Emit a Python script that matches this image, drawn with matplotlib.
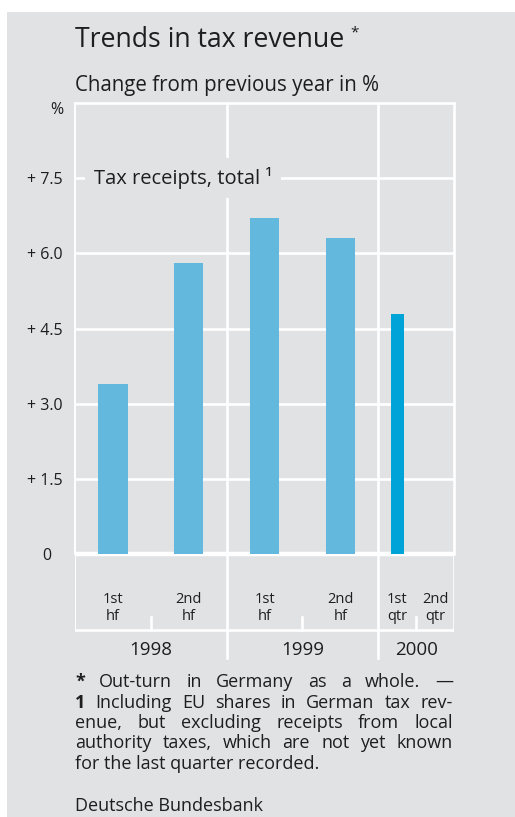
import numpy as np
import matplotlib
matplotlib.use("Agg")
import matplotlib.pyplot as plt
from matplotlib.patches import Rectangle
import matplotlib.transforms as mtransforms

# ---------------- data ----------------
years = ["1998", "1999", "2000"]
periods_per_year = [2, 2, 2]
period_labels = ["1st\nhf", "2nd\nhf", "1st\nhf", "2nd\nhf", "1st\nqtr", "2nd\nqtr"]
period_span = [1.0, 1.0, 1.0, 1.0, 0.5, 0.5]   # half-year = 1, quarter = 0.5
values = [3.4, 5.8, 6.7, 6.3, 4.8, np.nan]     # 2nd qtr 2000 not yet available
yticks = [0, 1.5, 3.0, 4.5, 6.0, 7.5]
ytick_labels = ["0", "+ 1.5", "+ 3.0", "+ 4.5", "+ 6.0", "+ 7.5"]

title = "Trends in tax revenue"
subtitle = "Change from previous year in %"
series_label = "Tax receipts, total \u00b9"
footnote_lines = [
    ["*", "Out-turn", "in", "Germany", "as", "a", "whole.", "\u2014"],
    ["1", "Including", "EU", "shares", "in", "German", "tax", "rev-"],
    ["enue,", "but", "excluding", "receipts", "from", "local"],
    ["authority", "taxes,", "which", "are", "not", "yet", "known"],
]
footnote_last = "for the last quarter recorded."
source = "Deutsche Bundesbank"

# ---------------- style ----------------
W, H = 515, 817
GRAY = "#e1e2e4"
LIGHT = "#63b8dd"
DARK = "#00a3d8"
TXT = "#1e1e1e"
FONT = "Open Sans"
plt.rcParams["font.family"] = [FONT, "DejaVu Sans"]

fig = plt.figure(figsize=(W / 100, H / 100), dpi=100)
fig.patch.set_facecolor("white")


def px(x, y):
    """pixel (from top-left) -> figure fraction"""
    return x / W, 1 - y / H


fig.add_artist(Rectangle((7 / W, 0), 1 - 7 / W, 1 - 12 / H, transform=fig.transFigure,
                         facecolor=GRAY, edgecolor="none", zorder=0))

# main axes
L, R, TOP, ZERO = 75, 454, 103, 554.3
ax = fig.add_axes([L / W, 1 - ZERO / H, (R - L) / W, (ZERO - TOP) / H])
ax.set_facecolor("none")
ax.set_xlim(0, sum(period_span))
ax.set_ylim(0, 9)
for s in ax.spines.values():
    s.set_visible(False)

edges = np.concatenate([[0], np.cumsum(period_span)])
centers = (edges[:-1] + edges[1:]) / 2
year_edges = [edges[0]]
k = 0
for n in periods_per_year:
    k += n
    year_edges.append(edges[k])

LW = 1.9
for y in yticks[1:]:
    ax.axhline(y, color="white", lw=LW, zorder=1, solid_capstyle="butt")
ax.axhline(9, color="white", lw=LW, zorder=1, clip_on=False)
ax.axhline(0, color="white", lw=3.2, zorder=1, clip_on=False, solid_capstyle="butt")
for xe in year_edges:
    ax.axvline(xe, color="white", lw=LW if xe != 0 else 1.4, zorder=1, clip_on=False)

span = np.array(period_span)
widths = np.where(span >= 1, 0.39 * span, 0.35 * span)
colors = [LIGHT if s >= 1 else DARK for s in span]
ax.bar(centers, values, width=widths, color=colors, zorder=2, linewidth=0)

ax.set_yticks(yticks)
ax.set_yticklabels(ytick_labels, fontsize=11.5, color=TXT)
ax.tick_params(axis="y", length=0, pad=9)
ax.set_xticks([])
# the "0" label is aligned on the integer digit of the other labels
zero_lab = ax.get_yticklabels()[0]
zero_lab.set_transform(zero_lab.get_transform() +
                       mtransforms.ScaledTranslation(-0.11, 0, fig.dpi_scale_trans))
trans = mtransforms.blended_transform_factory(ax.transAxes, ax.transData)
ax.text(-12 / (R - L), 8.87, "%", transform=trans, ha="right", va="center",
        fontsize=11.5, color=TXT)

ax.text(0.245, 7.5, series_label, fontsize=14.5, color=TXT, va="center", ha="left",
        zorder=5, bbox=dict(boxstyle="square,pad=0.45", fc=GRAY, ec="none"))

# lower label strip
axb = fig.add_axes([L / W, 1 - 662 / H, (R - L) / W, (662 - ZERO) / H])
axb.set_facecolor("none")
axb.set_xlim(ax.get_xlim())
axb.set_ylim(662, ZERO)
axb.axis("off")
axb.plot([edges[0], edges[-1]], [630, 630], color="white", lw=LW)
for xe in (edges[0], edges[-1]):
    axb.plot([xe, xe], [ZERO, 630], color="white", lw=LW if xe else 1.4)
for xe in year_edges[1:-1]:
    axb.plot([xe, xe], [ZERO, 658], color="white", lw=LW)
for i in range(len(period_span)):
    e = edges[i + 1]
    if e not in year_edges:
        axb.plot([e, e], [617, 630], color="white", lw=LW)
for c, lab in zip(centers, period_labels):
    axb.text(c, 608, lab, ha="center", va="center", fontsize=10.5, color=TXT,
             linespacing=1.1)
for i, yl in enumerate(years):
    axb.text((year_edges[i] + year_edges[i + 1]) / 2, 650, yl, ha="center",
             va="center", fontsize=13.5, color=TXT)

# titles
fig.text(*px(75, 47), title, fontsize=19.2, color=TXT, va="baseline", ha="left")
fig.text(*px(350, 36), "*", fontsize=11, color=TXT, va="baseline", ha="left")
fig.text(*px(75, 91), subtitle, fontsize=14.8, color=TXT, va="baseline", ha="left")

# footnote (justified)
FS = 13
renderer = fig.canvas.get_renderer()
x0, x1 = 75, 453
base = 687
step = 20.5
for li, words in enumerate(footnote_lines):
    ts = []
    for wi, w in enumerate(words):
        bold = (li < 2 and wi == 0)
        ts.append(fig.text(0, 0, w, fontsize=FS, color=TXT, va="baseline",
                           ha="left", fontweight="bold" if bold else "normal"))
    ws = [t.get_window_extent(renderer).width for t in ts]
    gap = (x1 - x0 - sum(ws)) / (len(ws) - 1)
    x = x0
    for t, wdt in zip(ts, ws):
        t.set_position(px(x, base + li * step))
        x += wdt + gap
fig.text(*px(x0, base + 4 * step), footnote_last, fontsize=FS, color=TXT, va="baseline")
fig.text(*px(x0, 811), source, fontsize=FS, color=TXT, va="baseline")

fig.savefig("out.png", dpi=100, facecolor=fig.get_facecolor())
